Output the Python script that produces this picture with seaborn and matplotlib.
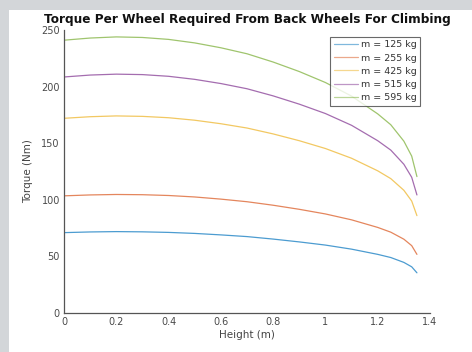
import numpy as np
import pandas as pd
import matplotlib
matplotlib.use('Agg')
import matplotlib.pyplot as plt
import seaborn as sns

# heights (m) and torque per wheel (Nm)
height = [0, 0.1, 0.2, 0.3, 0.4, 0.5, 0.6, 0.7, 0.8, 0.9, 1.0, 1.1, 1.2, 1.25, 1.3, 1.33, 1.35]
t_125 = [71, 71.6, 71.9, 71.7, 71.2, 70.3, 69.0, 67.5, 65.3, 62.8, 60.0, 56.4, 51.8, 49.0, 44.7, 40.8, 35.5]
t_255 = [103.5, 104.3, 104.7, 104.5, 103.8, 102.5, 100.6, 98.3, 95.2, 91.6, 87.5, 82.3, 75.6, 71.4, 65.2, 59.5, 51.8]
t_425 = [172, 173.4, 174.1, 173.7, 172.5, 170.3, 167.2, 163.4, 158.2, 152.2, 145.3, 136.7, 125.6, 118.7, 108.4, 98.9, 86]
t_515 = [208.5, 210.2, 211.0, 210.6, 209.1, 206.4, 202.7, 198.1, 191.8, 184.5, 176.2, 165.8, 152.2, 143.9, 131.4, 119.9, 104.3]
t_595 = [241, 242.9, 243.9, 243.4, 241.7, 238.6, 234.3, 229.0, 221.7, 213.3, 203.6, 191.6, 175.9, 166.3, 151.8, 138.6, 120.5]
labels = ['m = 125 kg', 'm = 255 kg', 'm = 425 kg', 'm = 515 kg', 'm = 595 kg']
colors = ['#0072BD', '#D95319', '#EDB120', '#7E2F8E', '#77AC30']

series = [t_125, t_255, t_425, t_515, t_595]
df = pd.concat([pd.DataFrame({'height': height, 'torque': s, 'mass': lab})
                for s, lab in zip(series, labels)], ignore_index=True)

sns.set_style('white')
fig = plt.figure(figsize=(4.72, 3.52), dpi=100)
fig.patch.set_facecolor('white')
# grey screenshot border on the left and top
grey = '#d3d6d9'
fig.patches.append(plt.Rectangle((0, 0), 9 / 472, 1, transform=fig.transFigure,
                                 facecolor=grey, edgecolor='none'))
fig.patches.append(plt.Rectangle((0, 1 - 10 / 352), 1, 10 / 352, transform=fig.transFigure,
                                 facecolor=grey, edgecolor='none'))

ax = fig.add_axes([64 / 472, 1 - 313 / 352, 366 / 472, 283 / 352])
sns.lineplot(data=df, x='height', y='torque', hue='mass', palette=colors,
             linewidth=0.9, alpha=0.7, ax=ax)

ax.set_xlim(0, 1.4)
ax.set_ylim(0, 250)
ax.set_xticks([0, 0.2, 0.4, 0.6, 0.8, 1, 1.2, 1.4])
ax.set_xticklabels(['0', '0.2', '0.4', '0.6', '0.8', '1', '1.2', '1.4'])
ax.set_yticks([0, 50, 100, 150, 200, 250])
for side in ['top', 'right']:
    ax.spines[side].set_visible(False)
for side in ['left', 'bottom']:
    ax.spines[side].set_color('#555555')
    ax.spines[side].set_linewidth(0.9)
ax.tick_params(axis='both', direction='in', length=3, width=0.8, colors='#555555',
               labelsize=7, labelcolor='#4a4a4a', pad=3)
ax.set_xlabel('Height (m)', fontsize=7.5, color='#444444', labelpad=2)
ax.set_ylabel('Torque (Nm)', fontsize=7.5, color='#444444', labelpad=6)
ax.set_title('Torque Per Wheel Required From Back Wheels For Climbing',
             fontsize=8.7, fontweight='bold', color='#111111', pad=5)

leg = ax.legend(loc='upper right', bbox_to_anchor=(356 / 366, 1 - 7 / 283), fontsize=6.8,
                frameon=True, fancybox=False, handlelength=2.6, handletextpad=0.3,
                labelspacing=0.45, borderpad=0.35, borderaxespad=0)
leg.get_frame().set_edgecolor('#444444')
leg.get_frame().set_linewidth(0.8)
for t in leg.get_texts():
    t.set_color('#333333')
for h in leg.get_lines():
    h.set_alpha(0.5)

fig.savefig('out.png', dpi=100, facecolor=fig.get_facecolor())
